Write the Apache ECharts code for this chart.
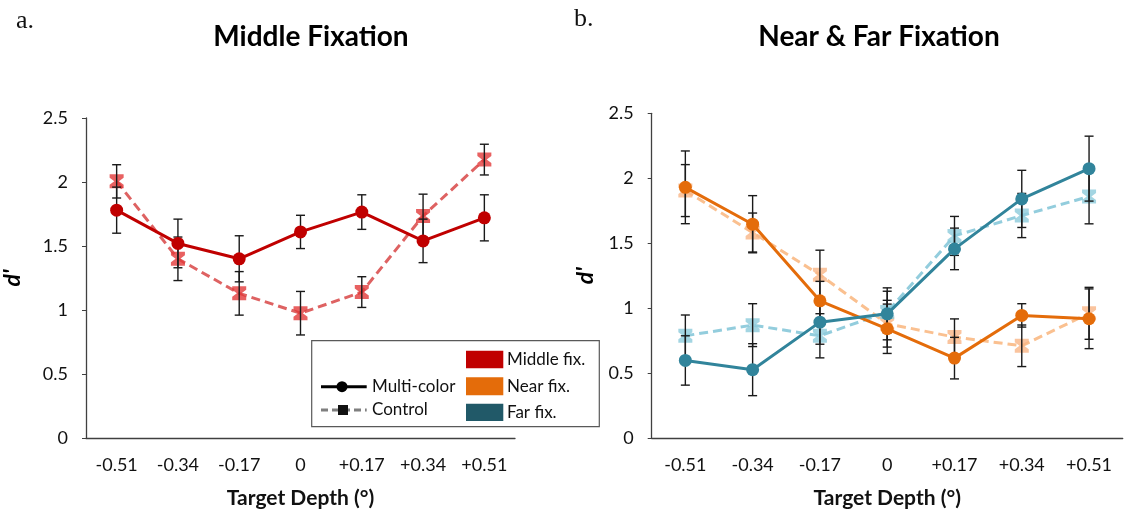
<!DOCTYPE html>
<html>
<head>
<meta charset="utf-8">
<script src="https://cdn.jsdelivr.net/npm/echarts@6/dist/echarts.min.js"></script>
<style>
  html, body { margin: 0; padding: 0; background: #fff; }
  #main { width: 1125px; height: 514px; }
</style>
</head>
<body>
<div id="main"></div>
<script>
var depthLabels = ['-0.51', '-0.34', '-0.17', '0', '+0.17', '+0.34', '+0.51'];

// middle fixation
var midMulti = [1.78, 1.52, 1.40, 1.61, 1.765, 1.54, 1.72];
var midMultiErr = [0.18, 0.19, 0.18, 0.13, 0.135, 0.17, 0.18];
var midCtrl = [2.005, 1.40, 1.13, 0.975, 1.14, 1.735, 2.175];
var midCtrlErr = [0.13, 0.17, 0.17, 0.17, 0.12, 0.17, 0.12];

// near & far fixation
var nearMulti = [1.93, 1.646, 1.056, 0.841, 0.615, 0.944, 0.918];
var nearMultiErr = [0.28, 0.22, 0.15, 0.19, 0.16, 0.09, 0.23];
var nearCtrl = [1.905, 1.582, 1.256, 0.88, 0.777, 0.71, 0.96];
var nearCtrlErr = [0.2, 0.15, 0.19, 0.18, 0.14, 0.16, 0.2];
var farMulti = [0.597, 0.526, 0.892, 0.956, 1.456, 1.841, 2.074];
var farMultiErr = [0.19, 0.2, 0.17, 0.2, 0.16, 0.22, 0.25];
var farCtrl = [0.787, 0.869, 0.787, 0.97, 1.556, 1.713, 1.859];
var farCtrlErr = [0.16, 0.165, 0.17, 0.16, 0.15, 0.17, 0.21];

var FONT = 'Lato';
var AXIS_COLOR = '#404040';
var ctrlSymbol = 'path://M0,0L12,0L12,3L8,6L12,9L12,12L0,12L0,9L4,6L0,3Z';

var chart = echarts.init(document.getElementById('main'));

function errData(vals, errs) {
    return vals.map(function (v, i) { return [i, v, errs[i]]; });
}

function errRender(params, api) {
    var i = api.value(0), v = api.value(1), e = api.value(2);
    var hi = api.coord([i, v + e]);
    var lo = api.coord([i, v - e]);
    var w = 4.5;
    var st = { stroke: '#1a1a1a', lineWidth: 1.4 };
    return {
        type: 'group',
        children: [
            { type: 'line', shape: { x1: hi[0], y1: hi[1], x2: lo[0], y2: lo[1] }, style: st },
            { type: 'line', shape: { x1: hi[0] - w, y1: hi[1], x2: hi[0] + w, y2: hi[1] }, style: st },
            { type: 'line', shape: { x1: lo[0] - w, y1: lo[1], x2: lo[0] + w, y2: lo[1] }, style: st }
        ]
    };
}

function errSeries(idx, vals, errs) {
    return {
        type: 'custom', xAxisIndex: idx, yAxisIndex: idx,
        renderItem: errRender, data: errData(vals, errs),
        encode: { x: 0, y: 1 }, silent: true, z: 3
    };
}

function multiSeries(idx, vals, color) {
    return {
        type: 'line', xAxisIndex: idx, yAxisIndex: idx, data: vals,
        symbol: 'circle', symbolSize: 13,
        lineStyle: { color: color, width: 3 },
        itemStyle: { color: color },
        z: 4, silent: true
    };
}

function ctrlSeries(idx, vals, lineColor, markColor) {
    return {
        type: 'line', xAxisIndex: idx, yAxisIndex: idx, data: vals,
        symbol: ctrlSymbol, symbolSize: 14,
        lineStyle: { color: lineColor, width: 3, type: [9, 5] },
        itemStyle: { color: markColor, opacity: 0.8 },
        z: 2, silent: true
    };
}

function xAxisOf(idx) {
    return {
        type: 'category', gridIndex: idx, data: depthLabels, boundaryGap: true,
        axisLine: { lineStyle: { color: AXIS_COLOR, width: 1.3 } },
        axisTick: { alignWithLabel: true, length: 6, lineStyle: { color: AXIS_COLOR } },
        axisLabel: { color: '#111', fontFamily: FONT, fontSize: 18, margin: 18 },
        name: 'Target Depth (°)', nameLocation: 'middle', nameGap: 50,
        nameTextStyle: { color: '#111', fontFamily: FONT, fontSize: 21, fontWeight: 'bold' }
    };
}

function yAxisOf(idx, gap) {
    return {
        type: 'value', gridIndex: idx, min: 0, max: 2.5, interval: 0.5,
        splitLine: { show: false },
        axisLine: { show: true, lineStyle: { color: AXIS_COLOR, width: 1.3 } },
        axisTick: { show: true, length: 4, lineStyle: { color: AXIS_COLOR } },
        axisLabel: { color: '#111', fontFamily: FONT, fontSize: 18, margin: 18 },
        name: "d'", nameLocation: 'middle', nameRotate: 90, nameGap: gap,
        nameTextStyle: { color: '#000', fontFamily: FONT, fontSize: 23, fontWeight: 'bold', fontStyle: 'italic' }
    };
}

var legendStyle = { fontFamily: FONT, fontSize: 17, fill: '#111' };

var option = {
    backgroundColor: '#fff',
    animation: false,
    grid: [
        { left: 82.7, top: 118, width: 432.3, height: 322 },
        { left: 651.7, top: 113.3, width: 471, height: 325 }
    ],
    xAxis: [xAxisOf(0), xAxisOf(1)],
    yAxis: [yAxisOf(0, 62), yAxisOf(1, 55)],
    series: [
        ctrlSeries(0, midCtrl, '#DE6262', '#E23A3A'),
        errSeries(0, midCtrl, midCtrlErr),
        errSeries(0, midMulti, midMultiErr),
        multiSeries(0, midMulti, '#C00000'),

        ctrlSeries(1, nearCtrl, '#FAC090', '#F9B586'),
        ctrlSeries(1, farCtrl, '#93CDDD', '#8CCBDB'),
        errSeries(1, nearCtrl, nearCtrlErr),
        errSeries(1, farCtrl, farCtrlErr),
        errSeries(1, nearMulti, nearMultiErr),
        errSeries(1, farMulti, farMultiErr),
        multiSeries(1, nearMulti, '#E46C0A'),
        multiSeries(1, farMulti, '#31849B')
    ],
    graphic: [
        { type: 'text', left: 16, top: 8, style: { text: 'a.', font: '26px "Liberation Serif"', fill: '#111' } },
        { type: 'text', left: 574, top: 6, style: { text: 'b.', font: '26px "Liberation Serif"', fill: '#111' } },
        { type: 'text', x: 311, y: 37, style: { text: 'Middle Fixation', font: 'bold 28px Lato', fill: '#000', textAlign: 'center', textVerticalAlign: 'middle' } },
        { type: 'text', x: 879, y: 37, style: { text: 'Near & Far Fixation', font: 'bold 28px Lato', fill: '#000', textAlign: 'center', textVerticalAlign: 'middle' } },

        // legend box
        { type: 'rect', shape: { x: 311.7, y: 340.7, width: 287.6, height: 86 }, style: { fill: '#fff', stroke: '#595959', lineWidth: 1.2 }, z: 10 },
        { type: 'line', shape: { x1: 321, y1: 386.7, x2: 366.7, y2: 386.7 }, style: { stroke: '#000', lineWidth: 3 }, z: 11 },
        { type: 'circle', shape: { cx: 342, cy: 386.7, r: 5.5 }, style: { fill: '#000' }, z: 11 },
        { type: 'text', x: 372, y: 387, style: Object.assign({ text: 'Multi-color', textVerticalAlign: 'middle' }, legendStyle), z: 11 },
        { type: 'line', shape: { x1: 321, y1: 410, x2: 366.7, y2: 410 }, style: { stroke: '#7F7F7F', lineWidth: 3, lineDash: [7, 4] }, z: 11 },
        { type: 'rect', shape: { x: 338, y: 405, width: 10, height: 10 }, style: { fill: '#111' }, z: 12 },
        { type: 'text', x: 372, y: 410, style: Object.assign({ text: 'Control', textVerticalAlign: 'middle' }, legendStyle), z: 11 },
        { type: 'rect', shape: { x: 466, y: 350.7, width: 37.3, height: 17.6 }, style: { fill: '#C00000' }, z: 11 },
        { type: 'rect', shape: { x: 466, y: 377.3, width: 37.3, height: 18 }, style: { fill: '#E46C0A' }, z: 11 },
        { type: 'rect', shape: { x: 466, y: 403.7, width: 37.3, height: 17.3 }, style: { fill: '#215968' }, z: 11 },
        { type: 'text', x: 507, y: 359.5, style: Object.assign({ text: 'Middle fix.', textVerticalAlign: 'middle' }, legendStyle), z: 11 },
        { type: 'text', x: 507, y: 386.3, style: Object.assign({ text: 'Near fix.', textVerticalAlign: 'middle' }, legendStyle), z: 11 },
        { type: 'text', x: 507, y: 412.3, style: Object.assign({ text: 'Far fix.', textVerticalAlign: 'middle' }, legendStyle), z: 11 }
    ]
};

chart.setOption(option);
</script>
</body>
</html>
